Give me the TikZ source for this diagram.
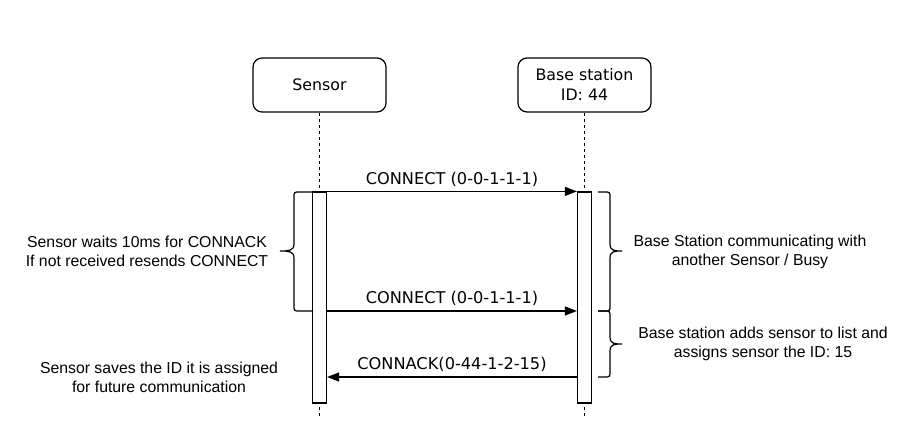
\documentclass[tikz,border=0pt]{standalone}
\usepackage{fontspec}
\setmainfont{Liberation Sans}
\newfontfamily\verd{DejaVu Sans}
\usetikzlibrary{arrows.meta}
\begin{document}
\begin{tikzpicture}[x=1pt,y=-1pt,
  actor/.style={draw, line width=1.2pt, rounded corners=9pt, minimum width=133pt, minimum height=54pt, align=center, font=\verd\fontsize{15.8}{20}\selectfont},
  lifeline/.style={line width=1.1pt, dash pattern=on 3pt off 3pt},
  bar/.style={draw, fill=white, line width=1.2pt, minimum width=14pt, minimum height=211pt, inner sep=0pt},
  msg/.style={line width=1.2pt, -{Triangle[length=12pt,width=9pt]}},
  lbl/.style={font=\verd\fontsize{16.2}{20}\selectfont, inner sep=4.5pt, above},
  bracket/.style={line width=1.2pt},
  note/.style={align=center, font=\fontsize{15.8}{19}\selectfont}]
\useasboundingbox (0,0) rectangle (922,446);

\node[actor] (sensor) at (319.5,85) {Sensor};
\node[actor] (base) at (584.5,85) {Base station\\ID: 44};

\coordinate (sEnd) at (319.5,418);
\coordinate (bEnd) at (584.5,418);
\draw[lifeline] (sensor.south) -- (sEnd);
\draw[lifeline] (base.south) -- (bEnd);

\node[bar] (sbar) at (319.5,297.5) {};
\node[bar] (bbar) at (584.5,297.5) {};

\draw[msg] (sbar.north east) -- (bbar.north west) node[midway, lbl] {CONNECT (0-0-1-1-1)};
\draw[msg] (sbar.east |- 0,311) -- (bbar.west |- 0,311) node[midway, lbl] {CONNECT (0-0-1-1-1)};
\draw[msg] (bbar.west |- 0,377) -- (sbar.east |- 0,377) node[midway, lbl] {CONNACK(0-44-1-2-15)};

% left brace
\draw[bracket] (313,192) -- (300,192) .. controls (294,192) .. (294,198) -- (294,244)
  .. controls (294,251) and (288,251) .. (280,251)
  .. controls (288,251) and (294,251) .. (294,258) -- (294,305)
  .. controls (294,311) .. (300,311) -- (313,311);
% right brace 1
\draw[bracket] (598,192) -- (604,192) .. controls (610,192) .. (610,198) -- (610,244)
  .. controls (610,251) and (615,251) .. (622,251)
  .. controls (615,251) and (610,251) .. (610,258) -- (610,305)
  .. controls (610,311) .. (604,311) -- (598,311);
% right brace 2
\draw[bracket] (598,311) -- (604,311) .. controls (610,311) .. (610,317) -- (610,337)
  .. controls (610,344) and (615,344) .. (622,344)
  .. controls (615,344) and (610,344) .. (610,351) -- (610,371)
  .. controls (610,377) .. (604,377) -- (598,377);

\node[note] (n1) at (147,251.5) {Sensor waits 10ms for CONNACK\\If not received resends CONNECT};
\node[note] (n2) at (159,377.5) {Sensor saves the ID it is assigned\\for future communication};
\node[note] (n3) at (750,251.5) {Base Station communicating with\\another Sensor / Busy};
\node[note] (n4) at (763,343.5) {Base station adds sensor to list and\\assigns sensor the ID: 15};
\end{tikzpicture}
\end{document}
